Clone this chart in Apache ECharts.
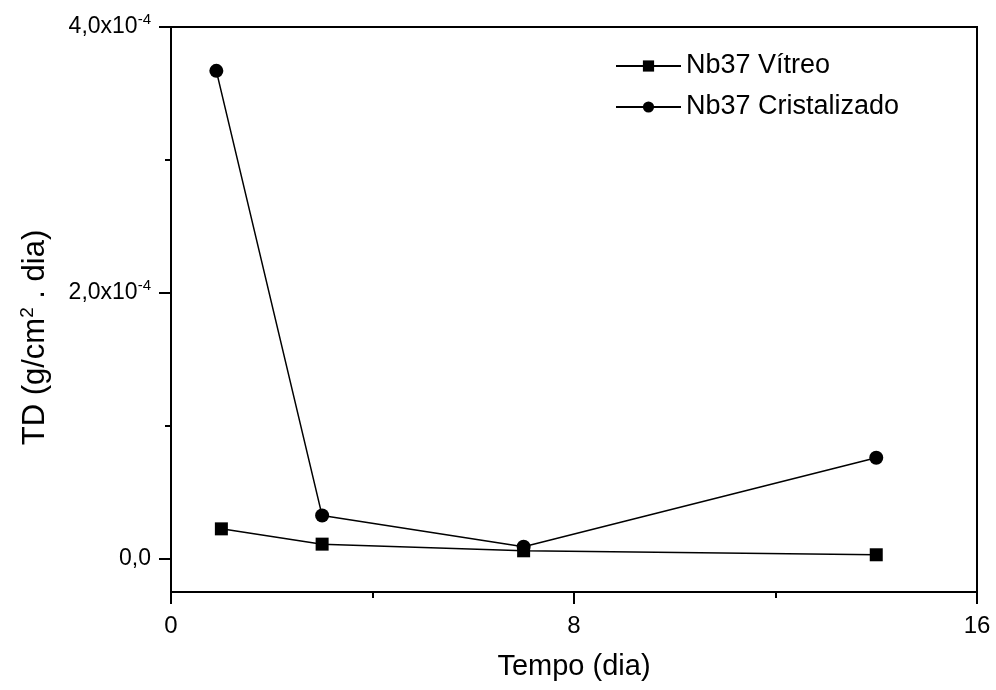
<!DOCTYPE html>
<html>
<head>
<meta charset="utf-8">
<script src="https://cdn.jsdelivr.net/npm/echarts@6/dist/echarts.min.js"></script>
<style>html,body{margin:0;padding:0;background:#fff}#c{width:996px;height:690px}</style>
</head>
<body>
<div id="c"></div>
<script>
// Data
const seriesNames = ['Nb37 Vítreo', 'Nb37 Cristalizado'];
const vitreoX = [1.0, 3, 7, 14];
const vitreoY = [2.25e-5, 1.1e-5, 6e-6, 3e-6];
const cristX = [0.9, 3, 7, 14];
const cristY = [3.67e-4, 3.25e-5, 9e-6, 7.6e-5];
const yTickValues = [0, 2e-4, 4e-4];
const yTickMantissa = ['0,0', '2,0x10', '4,0x10'];
const yTickExponent = ['', '-4', '-4'];
const yMinorTickValues = [1e-4, 3e-4];
const xTickValues = [0, 8, 16];

const FONT = "'Liberation Sans', Arial, sans-serif";
const chart = echarts.init(document.getElementById('c'), null, {renderer: 'canvas'});

function pairs(xs, ys) { return xs.map((x, i) => [x, ys[i]]); }

function yLabel(v) {
  let idx = -1;
  yTickValues.forEach((t, i) => { if (Math.abs(t - v) < 1e-9) idx = i; });
  if (idx < 0) return '';
  if (!yTickExponent[idx]) return '{b|' + yTickMantissa[idx] + '}';
  return '{b|' + yTickMantissa[idx] + '}{s|' + yTickExponent[idx] + '}';
}

const option = {
  animation: false,
  backgroundColor: '#fff',
  grid: {left: 171, right: 19, top: 27, bottom: 98, show: true, borderColor: '#000', borderWidth: 2},
  legend: {
    orient: 'vertical', left: 615, top: 51, padding: 0, itemGap: 11,
    itemWidth: 65, itemHeight: 14,
    data: seriesNames,
    textStyle: {fontFamily: FONT, fontSize: 27, color: '#000', lineHeight: 30}
  },
  xAxis: {
    type: 'value', min: xTickValues[0], max: xTickValues[2], interval: xTickValues[1] - xTickValues[0],
    axisLine: {onZero: false, lineStyle: {color: '#000', width: 2}},
    axisTick: {length: 12, lineStyle: {width: 2, color: '#000'}},
    minorTick: {show: true, splitNumber: 2, length: 6, lineStyle: {width: 2, color: '#000'}},
    splitLine: {show: false},
    axisLabel: {fontFamily: FONT, fontSize: 24, color: '#000', margin: 22},
    name: 'Tempo (dia)', nameLocation: 'middle', nameGap: 60,
    nameTextStyle: {fontFamily: FONT, fontSize: 29, color: '#000'}
  },
  yAxis: [{
    type: 'value', min: -2.5e-5, max: 4e-4,
    axisLine: {show: true, onZero: false, lineStyle: {color: '#000', width: 2}},
    axisTick: {show: true, length: 12, customValues: yTickValues, lineStyle: {width: 2, color: '#000'}},
    splitLine: {show: false},
    axisLabel: {
      customValues: yTickValues, margin: 20, formatter: yLabel,
      fontFamily: FONT, fontSize: 23, color: '#000',
      rich: {
        b: {fontFamily: FONT, fontSize: 23, color: '#000'},
        s: {fontFamily: FONT, fontSize: 15, color: '#000', padding: [0, 0, 14, 0]}
      }
    },
    name: '{t|TD (g/cm}{s|2}{t| . dia)}', nameLocation: 'middle', nameGap: 118,
    nameTextStyle: {
      padding: [0, 56, 0, 0],
      fontFamily: FONT, fontSize: 31, color: '#000',
      rich: {
        t: {fontFamily: FONT, fontSize: 31, color: '#000'},
        s: {fontFamily: FONT, fontSize: 19, color: '#000', padding: [0, 0, 16, 0]}
      }
    }
  }, {
    type: 'value', min: -2.5e-5, max: 4e-4, position: 'left',
    axisLine: {show: false, onZero: false},
    axisTick: {show: true, length: 6, customValues: yMinorTickValues, lineStyle: {width: 2, color: '#000'}},
    axisLabel: {show: false},
    splitLine: {show: false}
  }],
  series: [{
    name: seriesNames[0], type: 'line', data: pairs(vitreoX, vitreoY),
    symbol: 'rect', symbolSize: 13,
    lineStyle: {color: '#000', width: 1.5}, itemStyle: {color: '#000'}
  }, {
    name: seriesNames[1], type: 'line', data: pairs(cristX, cristY),
    symbol: 'circle', symbolSize: 14,
    lineStyle: {color: '#000', width: 1.5}, itemStyle: {color: '#000'}
  }]
};
chart.setOption(option);
</script>
</body>
</html>
